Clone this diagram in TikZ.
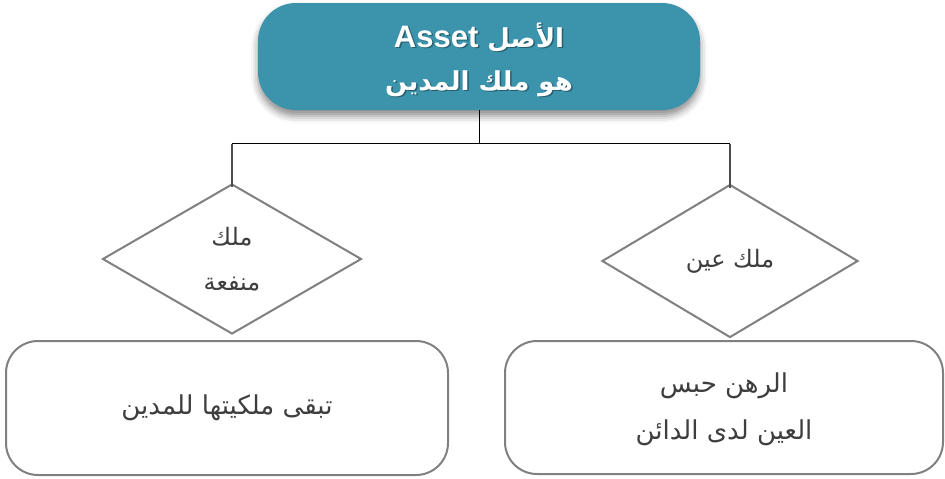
\documentclass[tikz,border=0pt]{standalone}
\usepackage{fontspec}
\setmainfont{DejaVu Sans}
\newfontfamily\arabicfont[Script=Arabic]{DejaVu Sans}
\newfontfamily\latinfont{Liberation Sans}
\TeXXeTstate=1
\usetikzlibrary{shapes.geometric,shadows.blur}

\definecolor{teal}{RGB}{59,147,172}
\definecolor{edgegrey}{RGB}{128,128,128}
\definecolor{inkgrey}{RGB}{62,62,62}

\newcommand{\headfont}{\arabicfont\bfseries\fontsize{26}{43}\selectfont}
\newcommand{\headtext}{\beginR الأصل \beginL{\latinfont\bfseries\fontsize{31}{43}\selectfont Asset}\endL\endR\\\beginR هو ملك المدين\endR}

\tikzset{
  headbox/.style={rectangle, rounded corners=38pt, fill=teal, draw=none,
    minimum width=442pt, minimum height=107pt, inner sep=0pt,
    blur shadow={shadow xshift=0pt, shadow yshift=-6pt, shadow blur radius=7pt, shadow opacity=45}},
  headlabel/.style={text=white, font=\headfont, align=center},
  headshadow/.style={text=black, opacity=0.35, font=\headfont, align=center},
  choice/.style={diamond, draw=edgegrey, line width=2pt, inner sep=0pt,
    text=inkgrey, font=\arabicfont\fontsize{24}{45}\selectfont, align=center},
  outcome/.style={rectangle, rounded corners=32pt, draw=edgegrey, line width=2pt,
    inner sep=0pt, text=inkgrey, font=\arabicfont\fontsize{26}{47}\selectfont, align=center},
  conn/.style={draw=black, line width=1pt},
  drop/.style={draw=black!70, line width=1.3pt}
}

\begin{document}
\begin{tikzpicture}[x=1pt,y=-1pt]
\useasboundingbox (0,0) rectangle (945,479);

% heading box with a soft text shadow
\node[headbox] (head) at (479,56.5) {};
\node[headshadow] (headtxtshadow) at (480.5,61) {\headtext};
\node[headlabel] (headtxt) at (479,59.5) {\headtext};

% the two kinds of ownership
\node[choice, minimum width=259pt, minimum height=150pt] (ldia) at (232,259)
  {\beginR ملك\endR\\\beginR منفعة\endR};
\node[choice, minimum width=256pt, minimum height=153pt] (rdia) at (730,261)
  {\beginR ملك عين\endR};

% outcomes
\node[outcome, minimum width=442pt, minimum height=134pt] (lbox) at (227,408)
  {\beginR تبقى ملكيتها للمدين\endR};
\node[outcome, minimum width=438pt, minimum height=133pt] (rbox) at (724,407.5) {};
\node[text=inkgrey, font=\arabicfont\fontsize{26}{47}\selectfont, align=center] (rboxtxt) at (724,409.5)
  {\beginR الرهن حبس\endR\\\beginR العين لدى الدائن\endR};

% connectors
\coordinate (bar) at (480,143.5);
\draw[conn] (head.south) -- (head.south |- bar);
\draw[conn] (ldia.north |- bar) -- (rdia.north |- bar);
\draw[drop, shorten >=-4pt] (ldia.north |- bar) -- (ldia.north);
\draw[drop, shorten >=-4pt] (rdia.north |- bar) -- (rdia.north);
\end{tikzpicture}
\end{document}
